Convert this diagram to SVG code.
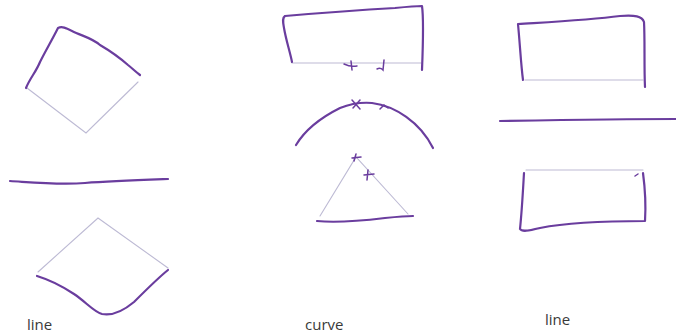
<svg xmlns="http://www.w3.org/2000/svg" width="676" height="333" viewBox="0 0 676 333">
<style>
.ink{fill:none;stroke:#6a3d9e;stroke-width:2.2;stroke-linecap:round;stroke-linejoin:round}
.thin{fill:none;stroke:#bdbad4;stroke-width:1.1;stroke-linecap:round}
.mark{fill:none;stroke:#6a3d9e;stroke-width:1.5;stroke-linecap:round}
.lbl{font-family:"Open Sans","Noto Sans",sans-serif;font-size:15px;fill:#3a3a3a}
</style>
<rect width="676" height="333" fill="#ffffff"/>
<g id="left-top-square">
<path class="thin" d="M27,88 L86,133 L138,82"/>
<path class="ink" d="M26,88 C30,78 36,72 40,62 C46,50 52,40 58,28 C62,26 66,28 72,31 C82,36 92,38 100,45 C112,52 120,58 128,65 C133,69 136,72 140,75"/>
</g>
<g id="left-line">
<path class="ink" d="M10,181 C40,183 60,185 85,183 C110,181 140,180 168,179"/>
</g>
<g id="left-bottom-square">
<path class="thin" d="M38,272 L98,218 L168,268"/>
<path class="ink" d="M37,276 C50,280 62,286 74,294 C86,302 94,312 102,314 C112,316 122,312 134,302 C146,290 158,278 168,270"/>
</g>
<g id="mid-rect">
<path class="thin" d="M292,63 L421,63"/>
<path class="ink" d="M292,62 C290,52 286,40 284,28 C283,22 282,18 285,16 C320,13 360,10 395,8 C405,7 415,6 422,6 C424,20 423,45 422,70"/>
<path class="mark" d="M344,64 C348,66 352,67 357,66 M351,61 L352,70"/>
<path class="mark" d="M384,60 L383,70 C381,68 379,68 377,69"/>
</g>
<g id="mid-arc">
<path class="ink" d="M296,145 C305,130 320,118 340,108 C350,104 360,102 372,103 C395,106 420,122 433,148"/>
<path class="mark" d="M352,100 L360,109 M360,100 L353,108"/>
<path class="mark" d="M380,109 L384,105 L388,108"/>
</g>
<g id="mid-triangle">
<path class="thin" d="M320,216 L356,157 L408,214"/>
<path class="ink" d="M317,221 C335,223 360,221 385,218 C395,217 405,216 413,216"/>
<path class="mark" d="M352,158 L361,157 M356,154 L354,161"/>
<path class="mark" d="M364,175 L374,174 M368,170 L367,180"/>
</g>
<g id="right-top-rect">
<path class="thin" d="M525,80 L643,80"/>
<path class="ink" d="M523,80 C521,65 520,45 518,24 C550,22 590,20 620,16 C635,15 642,16 644,22 C645,40 644,65 645,87"/>
</g>
<g id="right-line">
<path class="ink" d="M500,121 C560,120 620,119 676,119"/>
</g>
<g id="right-bottom-rect">
<path class="thin" d="M526,170 L643,170"/>
<path class="ink" d="M524,173 C523,190 522,210 520,229 C522,232 528,231 540,228 C570,222 610,221 645,221 C646,205 645,188 643,173"/>
<path class="mark" d="M635,176 L638,174"/>
</g>
<text class="lbl" x="27" y="330">line</text>
<text class="lbl" x="305" y="330">curve</text>
<text class="lbl" x="545" y="325">line</text>
</svg>
